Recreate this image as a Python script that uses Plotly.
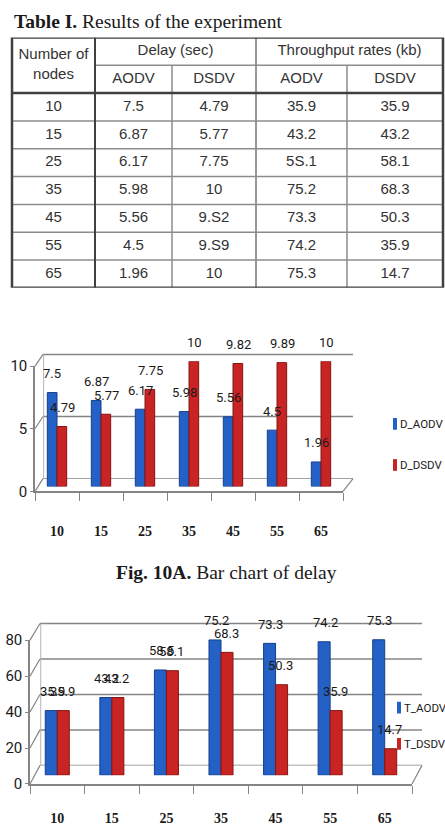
import plotly.graph_objects as go

# ---------------- data ----------------
nodes = ["10", "15", "25", "35", "45", "55", "65"]
delay_aodv = [7.5, 6.87, 6.17, 5.98, 5.56, 4.5, 1.96]
delay_dsdv = [4.79, 5.77, 7.75, 10, 9.82, 9.89, 10]
thr_aodv = [35.9, 43.2, 58.5, 75.2, 73.3, 74.2, 75.3]
thr_dsdv = [35.9, 43.2, 58.1, 68.3, 50.3, 35.9, 14.7]

# table text exactly as printed
tbl_delay_aodv = ["7.5", "6.87", "6.17", "5.98", "5.56", "4.5", "1.96"]
tbl_delay_dsdv = ["4.79", "5.77", "7.75", "10", "9.S2", "9.S9", "10"]
tbl_thr_aodv = ["35.9", "43.2", "5S.1", "75.2", "73.3", "74.2", "75.3"]
tbl_thr_dsdv = ["35.9", "43.2", "58.1", "68.3", "50.3", "35.9", "14.7"]

delay_names = ["D_AODV", "D_DSDV"]
thr_names = ["T_AODV", "T_DSDV"]
delay_ticks = [0, 5, 10]
thr_ticks = [0, 20, 40, 60, 80]

# ---------------- style / layout constants ----------------
W, H = 445, 837
BLUE, BLUE_EDGE = "#2461c6", "#163f8c"
RED, RED_EDGE = "#c92424", "#861414"
GRID = "#858585"
NARROW = "Roboto, Liberation Sans Narrow, sans-serif"
SERIF = "Liberation Serif, Times New Roman, serif"
SANS = "Liberation Sans, Arial, sans-serif"
CAT_RANGE = [-0.5, len(nodes) - 0.5]
WALL_PAD = 0.05  # extra room above the top wall gridline so it is not clipped


def dx(a, b):
    return [a / W, b / W]


def dy(top, bottom):
    return [1 - bottom / H, 1 - top / H]


def px(x):
    return x / W


def py(y):
    return 1 - y / H


fig = go.Figure()

# chart geometry (pixels)
C1 = dict(front_x=(35, 343), front_y=(365, 493), wall_x=(43, 353), wall_y=(353, 480),
          bar_y=(360, 488), rng=[0, 10], ticks=delay_ticks, standoff=26)
C2 = dict(front_x=(30, 412), front_y=(645, 792), wall_x=(40, 422), wall_y=(628, 773),
          bar_y=(636, 783), rng=[0, 80], ticks=thr_ticks, standoff=20)

hidden = dict(showgrid=False, zeroline=False, showticklabels=False, showline=False, ticks="")

# ---- walls (axes 1 & 2), drawn first so bars sit in front
for i, C in ((1, C1), (2, C2)):
    sx = "" if i == 1 else str(i)
    top, bot = C["wall_y"]
    lo, hi = C["rng"]
    top_pad = top - WALL_PAD * (bot - top)
    fig.add_trace(go.Scatter(x=[], y=[], xaxis="x" + sx, yaxis="y" + sx, showlegend=False))
    fig.layout["xaxis" + sx] = dict(domain=dx(*C["wall_x"]), range=[0, 1], anchor="y" + sx, **hidden)
    fig.layout["yaxis" + sx] = dict(domain=dy(top_pad, bot), range=[lo, hi + WALL_PAD * (hi - lo)],
                                    anchor="x" + sx, **hidden)
    for t in C["ticks"]:
        fig.add_shape(type="line", xref="x" + sx + " domain", yref="y" + sx,
                      x0=0, x1=1, y0=t, y1=t, layer="below",
                      line=dict(color=GRID, width=1.5))
    # left edge of the back wall
    fig.add_shape(type="line", xref="x" + sx, yref="y" + sx, x0=0.002, x1=0.002, y0=lo, y1=hi,
                  layer="below", line=dict(color="#b5b5b5", width=1))

# ---- front axes (3 & 4): tick labels, category labels, floor edge
for i, C in ((3, C1), (4, C2)):
    sx = str(i)
    fig.add_trace(go.Scatter(x=nodes, y=[None] * len(nodes), xaxis="x" + sx, yaxis="y" + sx,
                             showlegend=False, hoverinfo="skip"))
    fig.layout["xaxis" + sx] = dict(domain=dx(*C["front_x"]), anchor="y" + sx, type="category",
                                    categoryorder="array", categoryarray=nodes, range=CAT_RANGE,
                                    showgrid=False, zeroline=False, showline=True, linecolor=GRID,
                                    linewidth=1.5, ticks="outside", tickson="boundaries", ticklen=8,
                                    tickcolor=GRID, tickwidth=1.2,
                                    ticklabelstandoff=C["standoff"],
                                    tickfont=dict(family=SERIF, size=14, color="#1a1a1a", weight="bold"))
    fig.layout["yaxis" + sx] = dict(domain=dy(*C["front_y"]), range=C["rng"], anchor="x" + sx,
                                    tickvals=C["ticks"], showgrid=False, zeroline=False,
                                    showline=True, linecolor=GRID, linewidth=1.5, ticks="outside",
                                    ticklen=3, tickcolor=GRID,
                                    tickfont=dict(family=NARROW, size=15, color="#1a1a1a"))

# ---- bars (axes 5 & 6)
bar_sets = [
    (5, C1, delay_aodv, delay_dsdv, delay_names),
    (6, C2, thr_aodv, thr_dsdv, thr_names),
]
for i, C, sa, sb, names in bar_sets:
    sx = str(i)
    fig.add_trace(go.Bar(x=nodes, y=sa, name=names[0], xaxis="x" + sx, yaxis="y" + sx,
                         marker=dict(color=BLUE, line=dict(color=BLUE_EDGE, width=1)),
                         showlegend=False, hoverinfo="x+y"))
    fig.add_trace(go.Bar(x=nodes, y=sb, name=names[1], xaxis="x" + sx, yaxis="y" + sx,
                         marker=dict(color=RED, line=dict(color=RED_EDGE, width=1)),
                         showlegend=False, hoverinfo="x+y"))
    fig.layout["xaxis" + sx] = dict(domain=dx(*C["front_x"]), anchor="y" + sx, type="category",
                                    categoryorder="array", categoryarray=nodes, range=CAT_RANGE,
                                    **hidden)
    fig.layout["yaxis" + sx] = dict(domain=dy(*C["bar_y"]), range=C["rng"], anchor="x" + sx, **hidden)
    # data labels (x given as category index on the category axis)
    for series, shift in ((sa, -5), (sb, 5)):
        for k, v in enumerate(series):
            fig.add_annotation(x=k, y=v, xref="x" + sx, yref="y" + sx, text=f"{v:g}",
                               showarrow=False, xshift=shift, yshift=19, yanchor="middle",
                               font=dict(family=NARROW, size=13, color="#1a1a1a"))

# ---- 3D connectors (decorative perspective lines)
for C in (C1, C2):
    f0, f1 = C["front_y"]
    w0, w1 = C["wall_y"]
    lo, hi = C["rng"]
    for t in C["ticks"]:
        fy = f1 - (t - lo) / (hi - lo) * (f1 - f0)
        wy = w1 - (t - lo) / (hi - lo) * (w1 - w0)
        fig.add_shape(type="line", xref="paper", yref="paper",
                      x0=px(C["front_x"][0]), y0=py(fy), x1=px(C["wall_x"][0]), y1=py(wy),
                      line=dict(color=GRID, width=1.2))
    fig.add_shape(type="line", xref="paper", yref="paper",
                  x0=px(C["front_x"][1]), y0=py(f1), x1=px(C["wall_x"][1]), y1=py(w1),
                  line=dict(color=GRID, width=1.2))

# ---- legends (colour key + real text)
for (names, ys, xs) in ((delay_names, (424, 466), 393), (thr_names, (714, 751), 397)):
    for name, col, yy in zip(names, (BLUE, RED), ys):
        fig.add_shape(type="rect", xref="paper", yref="paper", x0=px(xs), x1=px(xs + 4),
                      y0=py(yy + 6), y1=py(yy - 6), fillcolor=col, line=dict(width=0))
        fig.add_annotation(x=px(xs + 4.5), y=py(yy), xref="paper", yref="paper", text=name,
                           showarrow=False, xanchor="left", yanchor="middle",
                           font=dict(family=NARROW, size=11.5, color="#1a1a1a"))

# ---- table (axis 7): x in pixel units, y in row units
col_edges = [12, 95, 172, 256, 347, 443]
n_rows = 9
fig.layout["xaxis7"] = dict(domain=[0, 1], range=[0, W], anchor="y7", **hidden)
fig.layout["yaxis7"] = dict(domain=dy(29, 285), range=[n_rows, 0], anchor="x7", **hidden)

centers = [(col_edges[k] + col_edges[k + 1]) / 2 for k in range(5)]
tx, ty, tt = [], [], []
tx += [centers[0], (col_edges[1] + col_edges[3]) / 2, (col_edges[3] + col_edges[5]) / 2,
       centers[1], centers[2], centers[3], centers[4]]
ty += [1.0, 0.5, 0.5, 1.5, 1.5, 1.5, 1.5]
tt += ["Number of<br>nodes", "Delay (sec)", "Throughput rates (kb)", "AODV", "DSDV", "AODV", "DSDV"]
cols = [nodes, tbl_delay_aodv, tbl_delay_dsdv, tbl_thr_aodv, tbl_thr_dsdv]
for k, col in enumerate(cols):
    for r, val in enumerate(col):
        tx.append(centers[k])
        ty.append(2.5 + r)
        tt.append(val)
fig.add_trace(go.Scatter(x=tx, y=ty, text=tt, mode="text", xaxis="x7", yaxis="y7",
                         textfont=dict(family=SANS, size=15, color="#333333"),
                         showlegend=False, hoverinfo="skip"))

DARK, LIGHT = "#404040", "#8c8c8c"


def tline(x0, y0, x1, y1, color, width):
    fig.add_shape(type="line", xref="x7", yref="y7", x0=x0, y0=y0, x1=x1, y1=y1,
                  line=dict(color=color, width=width))


for r in range(3, n_rows):
    tline(col_edges[0], r, col_edges[-1], r, LIGHT, 1.5)
tline(col_edges[1], 1, col_edges[-1], 1, LIGHT, 1.5)
tline(col_edges[2], 1, col_edges[2], n_rows, LIGHT, 1.5)
tline(col_edges[4], 1, col_edges[4], n_rows, LIGHT, 1.5)
tline(col_edges[3], 0, col_edges[3], n_rows, LIGHT, 1.8)
tline(col_edges[1], 0, col_edges[1], n_rows, DARK, 2)
tline(col_edges[0], 2, col_edges[-1], 2, DARK, 2.5)
fig.add_shape(type="rect", xref="x7", yref="y7", x0=col_edges[0], x1=col_edges[-1], y0=0, y1=n_rows,
              line=dict(color=DARK, width=2.5))

# ---- titles / captions
fig.add_annotation(x=px(12), y=py(13), xref="paper", yref="paper", xanchor="left", yanchor="middle",
                   text="<b>Table I.</b> Results of the experiment", showarrow=False,
                   font=dict(family=SERIF, size=19.5, color="#1a1a1a"))
fig.add_annotation(x=px(226), y=py(576), xref="paper", yref="paper", xanchor="center", yanchor="middle",
                   text="<b>Fig. 10A.</b> Bar chart of delay", showarrow=False,
                   font=dict(family=SERIF, size=19.5, color="#1a1a1a"))

fig.update_layout(width=W, height=H, margin=dict(l=0, r=0, t=0, b=0),
                  paper_bgcolor="white", plot_bgcolor="rgba(0,0,0,0)",
                  barmode="group", bargap=0.56, bargroupgap=0, showlegend=False)

fig.write_html("out.html")
